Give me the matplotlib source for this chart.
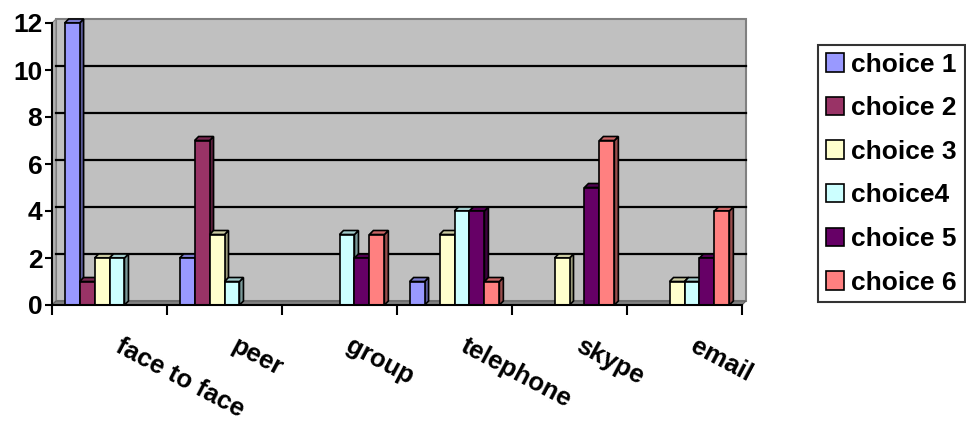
import numpy as np
import matplotlib.pyplot as plt
from matplotlib.patches import Polygon, Rectangle
from matplotlib.transforms import ScaledTranslation

categories = ["face to face", "peer", "group", "telephone", "skype", "email"]
series_names = ["choice 1", "choice 2", "choice 3", "choice4", "choice 5", "choice 6"]
choice_1 = [12, 2, 0, 1, 0, 0]
choice_2 = [1, 7, 0, 0, 0, 0]
choice_3 = [2, 3, 0, 3, 2, 1]
choice_4 = [2, 1, 3, 4, 0, 1]
choice_5 = [0, 0, 2, 4, 5, 2]
choice_6 = [0, 0, 3, 1, 7, 4]
series = [choice_1, choice_2, choice_3, choice_4, choice_5, choice_6]

colors = ["#9999FF", "#993366", "#FFFFCC", "#CCFFFF", "#660066", "#FF8080"]

plt.rcParams["font.family"] = ["Liberation Sans", "DejaVu Sans"]
plt.rcParams["font.weight"] = "bold"

W, H, DPI = 966, 421, 100
fig = plt.figure(figsize=(W / DPI, H / DPI), dpi=DPI)

# front plane of the plot area, in pixels
left, right, top, bottom = 52, 742, 23, 305
ax = fig.add_axes([left / W, (H - bottom) / H, (right - left) / W, (bottom - top) / H])

n_cat = len(categories)
ymax = 12
ax.set_xlim(-0.5, n_cat - 0.5)
ax.set_ylim(0, ymax)

# depth of the pseudo 3D effect
depth = 4
dx = depth * n_cat / (right - left)
dy = depth * ymax / (bottom - top)
back = ax.transData + ScaledTranslation(depth / DPI, depth / DPI, fig.dpi_scale_trans)


def shade(c, f):
    r, g, b = [int(c[i:i + 2], 16) / 255 for i in (1, 3, 5)]
    return (r * f, g * f, b * f)


# back wall, side wall and floor
ax.add_patch(Rectangle((-0.5, 0), n_cat, ymax, transform=back, facecolor="#c0c0c0",
                       edgecolor="#808080", lw=1.5, clip_on=False, zorder=0))
ax.add_patch(Polygon([(-0.5, 0), (-0.5 + dx, dy), (-0.5 + dx, ymax + dy), (-0.5, ymax)],
                     facecolor="#b0b0b0", edgecolor="#808080", lw=0.8, clip_on=False, zorder=0.5))
ax.add_patch(Polygon([(-0.5, 0), (n_cat - 0.5, 0), (n_cat - 0.5 + dx, dy), (-0.5 + dx, dy)],
                     facecolor="#808080", edgecolor="#606060", lw=0.8, clip_on=False, zorder=0.5))
for v in range(2, ymax, 2):
    ax.plot([-0.5, n_cat - 0.5], [v, v], color="black", lw=1.6, transform=back,
            clip_on=False, zorder=1)

# bars with a right side face and a top face
bw = 0.13
z = 2
for j, vals in enumerate(series):
    off = (j - (len(series) - 1) / 2) * bw
    for i, v in enumerate(vals):
        if v == 0:
            continue
        x0 = i + off - bw / 2
        x1 = x0 + bw
        ax.add_patch(Polygon([(x1, 0), (x1 + dx, dy), (x1 + dx, v + dy), (x1, v)],
                             facecolor=shade(colors[j], 0.6), edgecolor="black", lw=1.2,
                             clip_on=False, zorder=z))
        ax.add_patch(Polygon([(x0, v), (x1, v), (x1 + dx, v + dy), (x0 + dx, v + dy)],
                             facecolor=shade(colors[j], 0.8), edgecolor="black", lw=1.2,
                             clip_on=False, zorder=z))
        ax.bar(i + off, v, width=bw, color=colors[j], edgecolor="black", lw=1.2,
               clip_on=False, zorder=z + 0.5)
        z += 1

for s in ["top", "right"]:
    ax.spines[s].set_visible(False)
ax.spines["left"].set_linewidth(1.5)
ax.spines["bottom"].set_linewidth(1.5)
ax.spines["left"].set_zorder(100)
ax.spines["bottom"].set_zorder(100)

ax.set_yticks(range(0, ymax + 1, 2))
ax.tick_params(axis="y", labelsize=19, length=5, width=1.5, pad=2)
ax.set_xticks(np.arange(-0.5, n_cat, 1))
ax.set_xticklabels([])
ax.tick_params(axis="x", length=7, width=1.5)

for i, name in enumerate(categories):
    ax.annotate(name, (i, 0), xytext=(10, -21), textcoords="offset points",
                rotation=-28, rotation_mode="anchor", ha="left", va="top",
                fontsize=18.5, fontweight="bold", annotation_clip=False)

handles = [Rectangle((0, 0), 1, 1, facecolor=c, edgecolor="black", lw=1.2) for c in colors]
leg = fig.legend(handles, series_names, loc="upper left",
                 bbox_to_anchor=(818 / W, 1 - 45 / H), fontsize=19,
                 handlelength=0.7, handleheight=0.7, handletextpad=0.25,
                 labelspacing=0.74, borderpad=0.3, borderaxespad=0,
                 fancybox=False, frameon=True)
leg.get_frame().set_edgecolor("black")
leg.get_frame().set_linewidth(1.5)
for t in leg.get_texts():
    t.set_fontweight("bold")

fig.savefig("out.png", dpi=DPI)
